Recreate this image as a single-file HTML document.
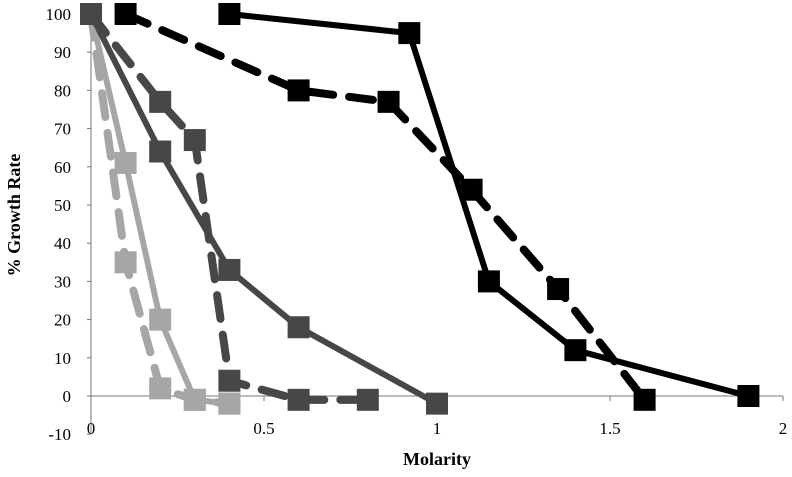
<!DOCTYPE html>
<html><head><meta charset="utf-8"><style>
body{margin:0;background:#fff}
svg text{font-family:"Liberation Serif",serif}
</style></head><body>
<svg id="chart" width="792" height="472" viewBox="0 0 792 472" xmlns="http://www.w3.org/2000/svg"></svg>
<script>
const xTicks=[0,0.5,1,1.5,2];
const xTickLabels=["0","0.5","1","1.5","2"];
const yTicks=[-10,0,10,20,30,40,50,60,70,80,90,100];
const blackSolidX=[0.4,0.92,1.15,1.4,1.9];
const blackSolidY=[100,95,30,12,0];
const blackDashX=[0.1,0.6,0.86,1.1,1.35,1.6];
const blackDashY=[100,80,77,54,28,-1];
const darkSolidX=[0,0.2,0.4,0.6,1.0];
const darkSolidY=[100,64,33,18,-2];
const darkDashX=[0,0.2,0.3,0.4,0.6,0.8];
const darkDashY=[100,77,67,4,-1,-1];
const lightSolidX=[0,0.1,0.2,0.3,0.4];
const lightSolidY=[100,61,20,-1,-2];
const lightDashX=[0,0.1,0.2,0.3,0.4];
const lightDashY=[100,35,2,-1,-2];
const NS="http://www.w3.org/2000/svg";
const svg=document.getElementById('chart');
const sx=v=>91+v*346;
const sy=v=>396-v*3.82;
function mk(t,a,p){const e=document.createElementNS(NS,t);for(const k in a)e.setAttribute(k,a[k]);(p||svg).appendChild(e);return e;}
const axes=mk('g',{});


const ya=mk('line',{x1:sx(0),x2:sx(0),y1:sy(-10),y2:sy(100),stroke:'#777','stroke-width':1},axes);


const xa=mk('line',{x1:sx(0),x2:sx(2),y1:sy(0),y2:sy(0),stroke:'#777','stroke-width':1},axes);


yTicks.forEach(v=>{
 mk('line',{x1:sx(0)-4,x2:sx(0),y1:sy(v),y2:sy(v),stroke:'#777'},axes);
 const t=mk('text',{x:sx(0)-20,y:sy(v)+6,'text-anchor':'end','font-size':17},axes);
 t.textContent=v;
 
 
});
xTicks.forEach((v,i)=>{
 mk('line',{x1:sx(v),x2:sx(v),y1:sy(0),y2:sy(0)+5,stroke:'#777'},axes);
 const t=mk('text',{x:sx(v),y:434,'text-anchor':'middle','font-size':17},axes);
 t.textContent=xTickLabels[i];
 
 
});
const xt=mk('text',{x:437,y:465,'text-anchor':'middle','font-size':18,'font-weight':'bold'});
xt.textContent='Molarity';


const yt=mk('text',{x:0,y:0,transform:'translate(20,215) rotate(-90)','text-anchor':'middle','font-size':18,'font-weight':'bold'});
yt.textContent='% Growth Rate';


function series(name,xs,ys,color,dash){
 const g=mk('g',{});
 
 
 const pts=xs.map((x,i)=>sx(x)+','+sy(ys[i])).join(' ');
 const l=mk('polyline',{points:pts,fill:'none',stroke:color,'stroke-width':dash?8:6,'stroke-dasharray':dash?'24,16':'none','stroke-linecap':'round'},g);
 
 
 xs.forEach((x,i)=>{
  const r=mk('rect',{x:sx(x)-11,y:sy(ys[i])-11,width:22,height:22,fill:color},g);
  
  
 });
}
series('light-dashed-series',lightDashX,lightDashY,'#a6a6a6',true);
series('light-solid-series',lightSolidX,lightSolidY,'#a6a6a6',false);
series('dark-dashed-series',darkDashX,darkDashY,'#474747',true);
series('dark-solid-series',darkSolidX,darkSolidY,'#474747',false);
series('black-dashed-series',blackDashX,blackDashY,'#000',true);
series('black-solid-series',blackSolidX,blackSolidY,'#000',false);
</script>
</body></html>
